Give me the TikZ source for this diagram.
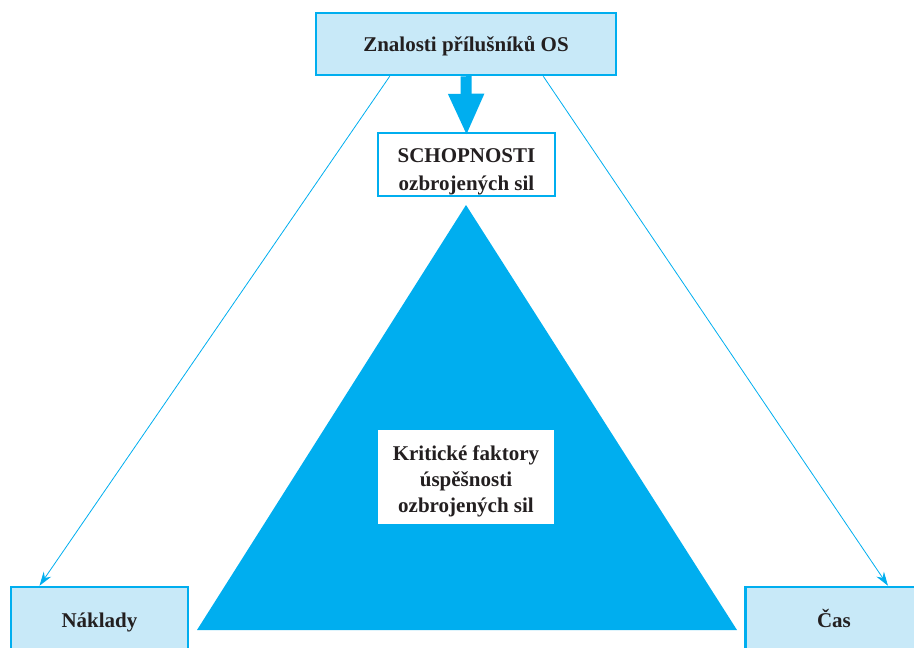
\documentclass[tikz,border=0pt]{standalone}
\usepackage{fontspec}
\setmainfont{Liberation Serif}
\usepackage{tikz}
\usetikzlibrary{arrows.meta}
\usetikzlibrary{positioning}
\definecolor{cyanline}{HTML}{00AEEF}
\definecolor{cyanlight}{HTML}{C8E9F8}
\definecolor{inkblack}{HTML}{231F20}
\tikzstyle{bluebox} = [rectangle, minimum width=177pt, minimum height=66pt, text height=18pt, text depth=4pt, text centered, draw=cyanline, line width=2.5pt, fill=cyanlight, text=inkblack, font=\bfseries\fontsize{21}{26}\selectfont]
\tikzstyle{whitebox} = [rectangle, inner sep=0pt, text centered, draw=cyanline, line width=2.5pt, fill=white, text=inkblack, align=center, font=\bfseries\fontsize{21}{26}\selectfont]
\tikzstyle{arrow} = [cyanline, line width=0.8pt, -{Stealth[length=14pt,width=9pt]}]
\tikzstyle{bigarrow} = [cyanline, line width=11pt, -{Triangle[length=42pt,width=33pt]}]

\begin{document}
\begin{tikzpicture}[x=1pt, y=-1pt]
\useasboundingbox (0,0) rectangle (914,648);
\node (znalosti) [bluebox, minimum width=300pt, minimum height=62pt] at (466,44) {Znalosti přílušníků OS};
\node (schopnosti) [whitebox, minimum width=177pt, text height=57pt, text depth=6pt, font=\bfseries\fontsize{21}{28}\selectfont] at (466.5,164.5) {SCHOPNOSTI\\ozbrojených sil};
\fill [cyanline] (466,205) -- (197,630) -- (737,630) -- cycle;
\node (faktory) [whitebox, draw=none, minimum width=176pt, text height=82pt, text depth=12pt] at (466,477) {Kritické faktory\\úspěšnosti\\ozbrojených sil};
\node (naklady) [bluebox] at (99.5,620) {Náklady};
\node (cas) [bluebox] at (834,620) {Čas};

\draw [bigarrow] (znalosti.south) -- ([yshift=-4pt]schopnosti.north);
\draw [arrow] ([xshift=75pt]znalosti.south west) -- ([xshift=-60pt]naklady.north);
\draw [arrow] ([xshift=-74pt]znalosti.south east) -- ([xshift=54pt]cas.north);
\end{tikzpicture}
\end{document}
